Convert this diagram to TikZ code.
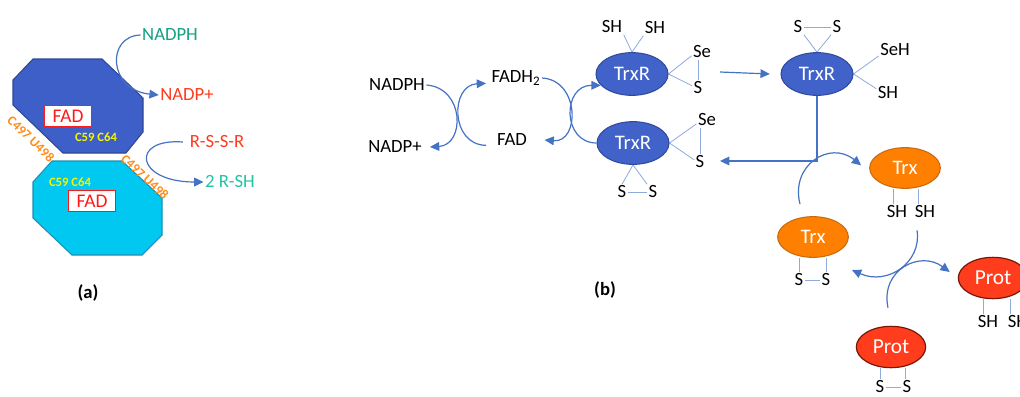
\documentclass[tikz,border=0pt]{standalone}
\usepackage{fontspec}
\setmainfont{Carlito}
\usetikzlibrary{shapes.geometric,arrows.meta,backgrounds}
\definecolor{arrblue}{HTML}{4472C4}
\definecolor{bondblue}{HTML}{8FAADC}
\definecolor{trxrfill}{HTML}{4163C9}
\definecolor{trxrdraw}{HTML}{2F4BA0}
\definecolor{octA}{HTML}{3F5FC8}
\definecolor{octAd}{HTML}{2E4795}
\definecolor{octB}{HTML}{00C8F0}
\definecolor{octBd}{HTML}{1E90B4}
\definecolor{trxfill}{HTML}{FF8000}
\definecolor{trxdraw}{HTML}{C96A10}
\definecolor{protfill}{HTML}{FF3D1C}
\definecolor{protdraw}{HTML}{7A1608}
\definecolor{tealA}{HTML}{12A382}
\definecolor{tealB}{HTML}{25C2A6}
\definecolor{redT}{HTML}{FF3B1F}
\definecolor{fadred}{HTML}{FF1A1A}
\definecolor{cyel}{HTML}{F5F500}
\definecolor{corange}{HTML}{FF8C1A}
\begin{document}
\begin{tikzpicture}[x=0.75pt,y=-0.75pt,
  lbl/.style={inner sep=1pt,font=\fontsize{14}{16}\selectfont},
  fadbox/.style={draw=fadred,fill=white,line width=1.1pt,text=fadred,minimum width=35pt,minimum height=16pt,inner sep=0pt,font=\fontsize{14.5}{16}\selectfont},
  cys/.style={inner sep=0pt,text=cyel,font=\bfseries\fontsize{9.5}{11}\selectfont},
  sec/.style={inner sep=0pt,text=corange,font=\bfseries\fontsize{10}{12}\selectfont},
  trxr/.style={ellipse,draw=trxrdraw,fill=trxrfill,line width=0.8pt,minimum width=54pt,minimum height=32pt,inner sep=0pt,text=white,font=\fontsize{15.5}{17}\selectfont},
  trx/.style={ellipse,draw=trxdraw,fill=trxfill,line width=0.8pt,minimum width=53pt,minimum height=30.5pt,inner sep=0pt,text=white,font=\fontsize{15.5}{17}\selectfont},
  prot/.style={ellipse,draw=protdraw,fill=protfill,line width=0.9pt,minimum width=52pt,minimum height=31pt,inner sep=0pt,text=white,font=\fontsize{16}{18}\selectfont},
  arr/.style={draw=arrblue,line width=0.9pt,-{Triangle[width=6.5pt,length=7pt]}},
  bond/.style={draw=bondblue,line width=0.6pt}]
\useasboundingbox (0,0) rectangle (1020,396);
\begin{scope}[on background layer]
\fill[white] (0,0) rectangle (1020,396);
\end{scope}

% ---------------- panel (a)
\draw[fill=octA,draw=octAd,line width=0.8pt] (13,80)--(33,59)--(102,59)--(143,98)--(143,132)--(126,153)--(63,153)--(13,105)--cycle;
\draw[fill=octB,draw=octBd,line width=0.8pt] (52,161)--(122,161)--(162,198)--(162,235)--(142,255)--(72,255)--(33,218)--(33,182)--cycle;
\node[fadbox] (fadA) at (68,116) {FAD};
\node[fadbox] (fadAA) at (92,201) {FAD};
\node[cys] (cysA) at (96,137) {C59 C64};
\node[cys] (cysB) at (70,182) {C59 C64};
\node[sec,rotate=-44] (secA) at (31,139) {C497 U498};
\node[sec,rotate=-43] (secB) at (145,177) {C497 U498};
\node[lbl,text=tealA] (nadphA) at (170,35) {NADPH};
\node[lbl,text=redT] (nadpA) at (187,95) {NADP+};
\node[lbl,text=redT] (rssr) at (217,142) {R-S-S-R};
\node[lbl,text=tealB] (rsh) at (230,182) {2 R-SH};
\draw[arr] (nadphA.west) .. controls (106,36) and (108,90) .. (nadpA.west);
\draw[arr] ([xshift=-4pt]rssr.west) .. controls (130,138) and (135,182) .. (rsh.west);
\node[font=\bfseries\fontsize{14}{16}\selectfont] (la) at (88,293) {(a)};

% ---------------- panel (b)
\node[lbl] (nadphB) at (397,85) {NADPH};
\node[lbl] (nadpB) at (395,147) {NADP+};
\node[lbl] (fadh) at (516,78) {FADH\textsubscript{2}};
\node[lbl] (fadB) at (512,140) {FAD};
\draw[arr] (nadphB.east) .. controls (465,88) and (465,145) .. ([xshift=5pt]nadpB.east);
\draw[arr] ([shift={(-7pt,-4pt)}]fadB.west) .. controls (450,145) and (450,85) .. ([shift={(-3pt,-4pt)}]fadh.west);

\node[trxr] (trxr1) at (632,74) {TrxR};
\node[trxr] (trxr2) at (633,143) {TrxR};
\node[trxr] (trxr3) at (817,74) {TrxR};
\draw[arr] (fadh.east) .. controls (580,80) and (580,143) .. ([xshift=12pt]fadB.east);
\draw[arr] (trxr2.west) .. controls (562,143) and (562,85) .. (trxr1.200);

% TrxR 1 substituents
\node[lbl] (sh1a) at (612,27) {SH};
\node[lbl] (sh1b) at (655,28) {SH};
\node[lbl] (se1) at (702,52) {Se};
\node[lbl] (s1) at (698,88) {S};
% TrxR 2 substituents
\node[lbl] (se2) at (707,120) {Se};
\node[lbl] (s2) at (700,162) {S};
\node[lbl] (s2a) at (622,192) {S};
\node[lbl] (s2b) at (653,192) {S};
% TrxR 3 substituents
\node[lbl] (s3a) at (798,27) {S};
\node[lbl] (s3b) at (837,27) {S};
\node[lbl] (seh3) at (895,50) {SeH};
\node[lbl] (sh3) at (888,93) {SH};

\begin{scope}[on background layer]
\draw[bond] (trxr1.north) -- (sh1a.south east);
\draw[bond] (trxr1.north) -- (sh1b.south west);
\draw[bond] (trxr1.east) -- (se1.200);
\draw[bond] (trxr1.east) -- (s1.160);
\draw[bond] (s1.north) -- (s1.north |- se1.south);
\draw[bond] (trxr2.east) -- (se2.200);
\draw[bond] (trxr2.east) -- (s2.160);
\draw[bond] (s2.north) -- (s2.north |- se2.south);
\draw[bond] (trxr2.south) -- (s2a.north);
\draw[bond] (trxr2.south) -- (s2b.north west);
\draw[bond] (s2a.east) -- (s2b.west);
\draw[bond] (trxr3.north) -- (s3a.south east);
\draw[bond] (trxr3.north) -- (s3b.south west);
\draw[bond] (s3a.east) -- (s3b.west);
\draw[bond] (trxr3.east) -- (seh3.200);
\draw[bond] (trxr3.east) -- (sh3.160);
\end{scope}

\coordinate (p1) at (720,72);
\coordinate (p2) at (720,161);
\draw[arr] (p1) -- ([xshift=-8pt]trxr3.west);
\draw[arr] (trxr3.south) |- (p2);

% Trx
\node[trx] (trx1) at (905,168) {Trx};
\node[trx] (trx2) at (813,237) {Trx};
\node[lbl] (sh4a) at (897,212) {SH};
\node[lbl] (sh4b) at (925,212) {SH};
\node[lbl] (s5a) at (799,280) {S};
\node[lbl] (s5b) at (826,280) {S};
% Prot
\node[prot] (prot1) at (993,278) {Prot};
\node[prot] (prot2) at (891,347) {Prot};
\node[lbl] (sh6a) at (988,322) {SH};
\node[lbl] (sh6b) at (1018,322) {SH};
\node[lbl] (s7a) at (880,387) {S};
\node[lbl] (s7b) at (907,387) {S};

\begin{scope}[on background layer]
\draw[bond] ([xshift=-3pt]sh4a.north) -- ([xshift=-3pt]sh4a.north |- trx1.south);
\draw[bond] ([xshift=-5pt]sh4b.north) -- ([xshift=-5pt]sh4b.north |- trx1.south);
\draw[bond] (s5a.north) -- (s5a.north |- trx2.south);
\draw[bond] (s5b.north) -- (s5b.north |- trx2.south);
\draw[bond] (s5a.east) -- (s5b.west);
\draw[bond] ([xshift=-3.75pt]sh6a.north) -- ([xshift=-3.75pt]sh6a.north |- prot1.south);
\draw[bond] ([xshift=-6pt]sh6b.north) -- ([xshift=-6pt]sh6b.north |- prot1.south);
\draw[bond] (s7a.north) -- (s7a.north |- prot2.south);
\draw[bond] ([xshift=-1.5pt]s7b.north) -- ([xshift=-1.5pt]s7b.north |- prot2.south);
\draw[bond] (s7a.east) -- (s7b.west);
\end{scope}

\draw[arr] ([shift={(-9.75pt,9pt)}]trx2.north) .. controls (790,165) and (830,140) .. ([shift={(-6pt,2pt)}]trx1.west);
\draw[arr] ([shift={(-6pt,-8pt)}]sh4b.south) .. controls (922,262) and (888,286) .. ([shift={(15pt,7.5pt)}]s5b.east);
\draw[arr] ([shift={(-2.25pt,13.5pt)}]prot2.north) .. controls (880,270) and (920,250) .. ([shift={(-6pt,4.5pt)}]prot1.west);

\node[font=\bfseries\fontsize{14}{16}\selectfont] (lb) at (605,290) {(b)};
\end{tikzpicture}
\end{document}
